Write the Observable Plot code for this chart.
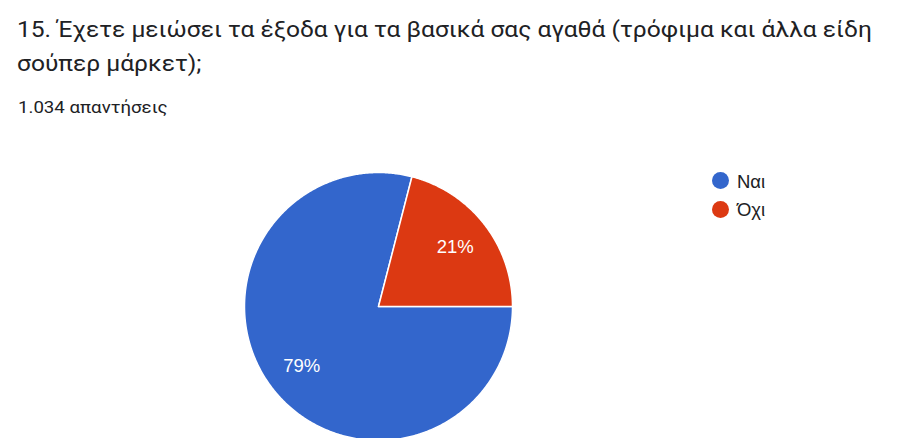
<!DOCTYPE html>
<html>
<head>
<meta charset="utf-8">
<script src="https://cdn.jsdelivr.net/npm/d3@7"></script>
<script src="https://cdn.jsdelivr.net/npm/@observablehq/plot@0.6"></script>
<style>
  html, body { margin: 0; padding: 0; background: #fff; overflow: hidden; width: 903px; height: 438px; }
  #wrap { position: relative; width: 903px; height: 438px; font-family: Roboto, "Noto Sans", sans-serif; color: #202124; }
  #title { position: absolute; left: 17px; top: 13.2px; font-size: 21.5px; line-height: 34px; color: #202124; transform: scaleX(1.143); transform-origin: 0 0; white-space: nowrap; }
  #subtitle { position: absolute; left: 17.5px; top: 98.3px; font-size: 16px; line-height: 20px; color: #202124; transform: scaleX(1.165); transform-origin: 0 0; white-space: nowrap; }
  #chart { position: absolute; left: 0; top: 130px; }
  #legend { position: absolute; left: 711.9px; top: 0; }
  .item { position: absolute; white-space: nowrap; font-family: "Liberation Sans", Arial, sans-serif; font-size: 18.5px; color: #202124; }
  .sw { position: absolute; width: 17.6px; height: 17.6px; border-radius: 50%; }
</style>
</head>
<body>
<div id="wrap">
  <div id="title"></div>
  <div id="subtitle"></div>
  <div id="chart"></div>
  <div id="legend"></div>
</div>
<script>
const titleLines = ["15. Έχετε μειώσει τα έξοδα για τα βασικά σας αγαθά (τρόφιμα και άλλα είδη", "σούπερ μάρκετ);"];
const subtitleText = "1.034 απαντήσεις";
const categories = ["Ναι", "Όχι"];
const counts = [817, 217];
const percentLabels = ["79%", "21%"];
const colors = ["#3366cc", "#dc3912"];

const titleEl = document.getElementById("title");
titleLines.forEach(line => {
  const d = document.createElement("div");
  d.textContent = line;
  titleEl.appendChild(d);
});
document.getElementById("subtitle").textContent = subtitleText;

const data = categories.map((c, i) => ({category: c, count: counts[i], label: percentLabels[i]}));
const arcs = d3.pie().sort(null).value(d => d.count).startAngle(Math.PI / 2).endAngle(Math.PI / 2 + 2 * Math.PI)(data);

// polygon outline of each slice in unit-circle coordinates
const outline = [];
arcs.forEach(a => {
  const n = Math.max(2, Math.ceil((a.endAngle - a.startAngle) / (Math.PI / 360)));
  outline.push({category: a.data.category, x: 0, y: 0});
  for (let k = 0; k <= n; k++) {
    const t = a.startAngle + (a.endAngle - a.startAngle) * k / n;
    outline.push({category: a.data.category, x: Math.sin(t), y: Math.cos(t)});
  }
  outline.push({category: a.data.category, x: 0, y: 0});
});

const labelR = 0.725;
const labels = arcs.map(a => {
  const m = (a.startAngle + a.endAngle) / 2;
  return {label: a.data.label, x: labelR * Math.sin(m), y: labelR * Math.cos(m)};
});

const cx = 378, cy = 176, r = 134;
const chart = Plot.plot({
  width: 903,
  height: 308,
  margin: 0,
  style: {background: "transparent", overflow: "hidden"},
  x: {domain: [-1, 1], range: [cx - r, cx + r], axis: null},
  y: {domain: [-1, 1], range: [cy + r, cy - r], axis: null},
  color: {domain: categories, range: colors},
  marks: [
    Plot.line(outline, {x: "x", y: "y", z: "category", fill: "category", stroke: "white", strokeWidth: 1.5, strokeLinejoin: "round"}),
    Plot.text(labels, {x: "x", y: "y", text: "label", fill: "white", fontSize: 18.5, fontFamily: "Liberation Sans, Arial, sans-serif"})
  ]
});
document.getElementById("chart").appendChild(chart);

const legend = document.getElementById("legend");
categories.forEach((c, i) => {
  const sw = document.createElement("div");
  sw.className = "sw";
  sw.style.background = colors[i];
  sw.style.left = "0px";
  sw.style.top = (171.9 + i * 28.6) + "px";
  legend.appendChild(sw);
  const t = document.createElement("div");
  t.className = "item";
  t.textContent = c;
  t.style.left = "25px";
  t.style.top = (170.5 + i * 28.6) + "px";
  legend.appendChild(t);
});
</script>
</body>
</html>
